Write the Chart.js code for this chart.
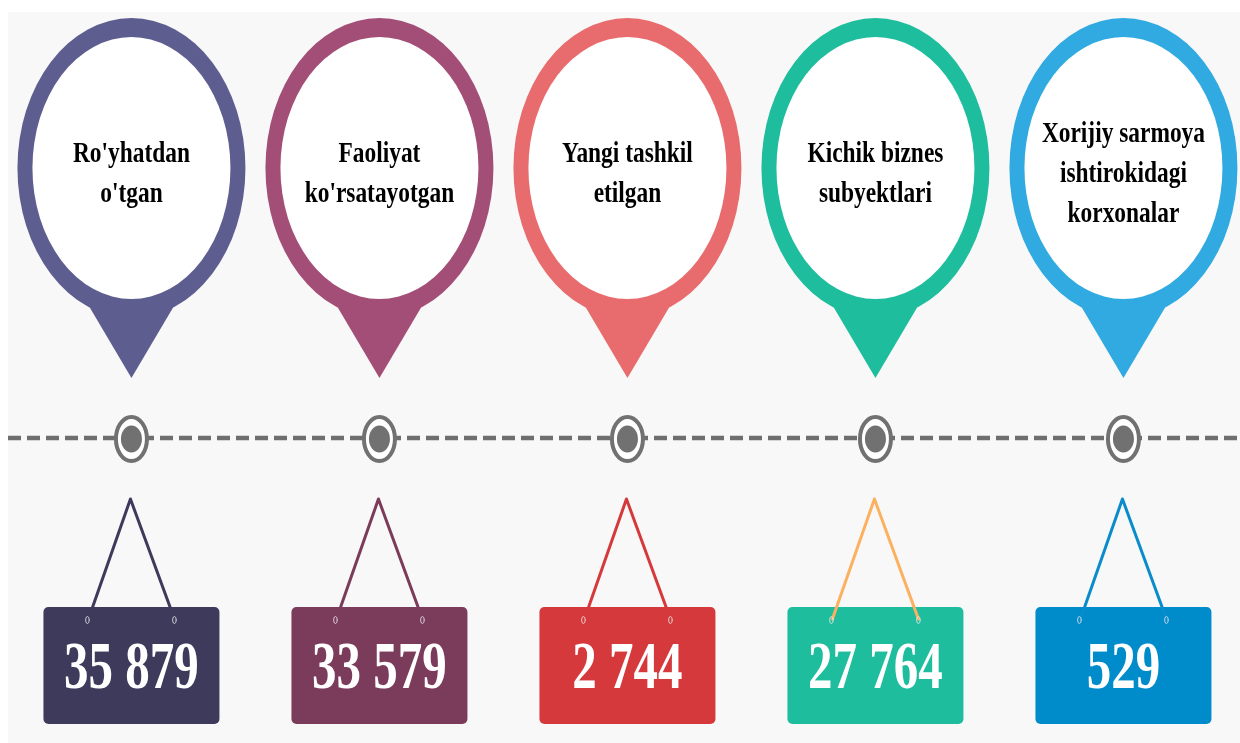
<!DOCTYPE html>
<html>
<head>
<meta charset="utf-8">
<script src="https://cdn.jsdelivr.net/npm/chart.js@4.4.1/dist/chart.umd.min.js"></script>
<style>
    html, body { margin: 0; padding: 0; background: #ffffff; }
    #wrap { width: 1240px; height: 743px; position: relative; }
</style>
</head>
<body>
<div id="wrap"><canvas id="grafico"></canvas></div>
<script>
// categorias (texto dentro dos marcadores)
const categorias = [
    ["Ro'yhatdan", "o'tgan"],
    ["Faoliyat", "ko'rsatayotgan"],
    ["Yangi tashkil", "etilgan"],
    ["Kichik biznes", "subyektlari"],
    ["Xorijiy sarmoya", "ishtirokidagi", "korxonalar"]
];
const valores = [35879, 33579, 2744, 27764, 529];

const coresPino = ["#5e5d8f", "#a34e77", "#e86c6e", "#1ebd9d", "#30aae1"];
const coresPlaca = ["#3d3a5c", "#7b3b5a", "#d6393b", "#1ebd9d", "#008bcb"];
const coresCorda = ["#3d3a5c", "#7b3b5a", "#d6393b", "#fcb160", "#0a8bcc"];

function formatar(v) {
    return String(v).replace(/\B(?=(\d{3})+(?!\d))/g, " ");
}

const LINHA_Y = 438;
const PINO_Y = 168;
const PLACA_TOPO = 607;

function textoCondensado(ctx, txt, x, y, escala) {
    ctx.save();
    ctx.translate(x, y);
    ctx.scale(escala, 1);
    ctx.fillText(txt, 0, 0);
    ctx.restore();
}

const infograficoPlugin = {
    id: "infografico",
    beforeDraw(chart) {
        const ctx = chart.ctx;
        ctx.save();
        ctx.fillStyle = "#ffffff";
        ctx.fillRect(0, 0, chart.width, chart.height);
        ctx.fillStyle = "#f8f8f8";
        ctx.fillRect(8, 12, chart.width - 8, chart.height - 12);

        // linha tracejada
        ctx.strokeStyle = "#6e6e6e";
        ctx.lineWidth = 4.5;
        ctx.setLineDash([13, 6]);
        ctx.beginPath();
        ctx.moveTo(8, LINHA_Y);
        ctx.lineTo(chart.width, LINHA_Y);
        ctx.stroke();
        ctx.setLineDash([]);
        ctx.restore();
    },
    afterDatasetsDraw(chart) {
        const ctx = chart.ctx;
        const meta = chart.getDatasetMeta(0);
        meta.data.forEach((pt, i) => {
            const cx = pt.x;
            ctx.save();

            // pino
            ctx.fillStyle = coresPino[i];
            ctx.beginPath();
            ctx.moveTo(cx - 52, 290);
            ctx.lineTo(cx + 52, 290);
            ctx.lineTo(cx, 378);
            ctx.closePath();
            ctx.fill();
            ctx.beginPath();
            ctx.ellipse(cx, PINO_Y, 114, 150, 0, 0, Math.PI * 2);
            ctx.fill();
            ctx.fillStyle = "#ffffff";
            ctx.beginPath();
            ctx.ellipse(cx, PINO_Y, 99, 131, 0, 0, Math.PI * 2);
            ctx.fill();

            // texto do pino
            const linhas = categorias[i];
            ctx.fillStyle = "#000000";
            ctx.font = "bold 30px 'Liberation Serif'";
            ctx.textAlign = "center";
            ctx.textBaseline = "middle";
            const y0 = 174 - (linhas.length - 1) * 20;
            linhas.forEach((l, k) => textoCondensado(ctx, l, cx, y0 + k * 40, 0.78));

            // marcador na linha
            ctx.fillStyle = "#ffffff";
            ctx.strokeStyle = "#717171";
            ctx.lineWidth = 4;
            ctx.beginPath();
            ctx.ellipse(cx, LINHA_Y + 1, 15.5, 22, 0, 0, Math.PI * 2);
            ctx.fill();
            ctx.stroke();
            ctx.fillStyle = "#717171";
            ctx.beginPath();
            ctx.ellipse(cx, LINHA_Y + 1, 10.5, 13.5, 0, 0, Math.PI * 2);
            ctx.fill();

            // placa
            ctx.fillStyle = coresPlaca[i];
            ctx.beginPath();
            ctx.roundRect(cx - 88, PLACA_TOPO, 176, 117, 5);
            ctx.fill();

            // corda
            ctx.strokeStyle = coresCorda[i];
            ctx.lineWidth = 3;
            ctx.lineJoin = "round";
            ctx.lineCap = "round";
            ctx.beginPath();
            ctx.moveTo(cx - 43, 619);
            ctx.lineTo(cx - 1, 499);
            ctx.lineTo(cx + 43, 619);
            ctx.stroke();

            // furos
            ctx.strokeStyle = "rgba(235,235,235,0.8)";
            ctx.lineWidth = 1;
            [-44, 43].forEach(dx => {
                ctx.beginPath();
                ctx.ellipse(cx + dx, 620, 1.8, 3.5, 0, 0, Math.PI * 2);
                ctx.stroke();
            });

            // valor
            ctx.fillStyle = "#ffffff";
            ctx.font = "bold 68px 'Liberation Serif'";
            ctx.textBaseline = "alphabetic";
            textoCondensado(ctx, formatar(valores[i]), cx, 688, 0.72);

            ctx.restore();
        });
    }
};

new Chart(document.getElementById("grafico"), {
    type: "scatter",
    data: {
        datasets: [{
            label: "Korxonalar",
            data: valores.map((v, i) => ({ x: i, y: 0 })),
            pointRadius: 0,
            pointHoverRadius: 0
        }]
    },
    options: {
        responsive: true,
        maintainAspectRatio: false,
        animation: false,
        layout: { padding: 0 },
        plugins: {
            legend: { display: false },
            tooltip: { enabled: false }
        },
        scales: {
            x: { type: "linear", min: -0.53, max: 4.47, display: false },
            y: { type: "linear", min: -1, max: 1, display: false }
        }
    },
    plugins: [infograficoPlugin]
});
</script>
</body>
</html>
